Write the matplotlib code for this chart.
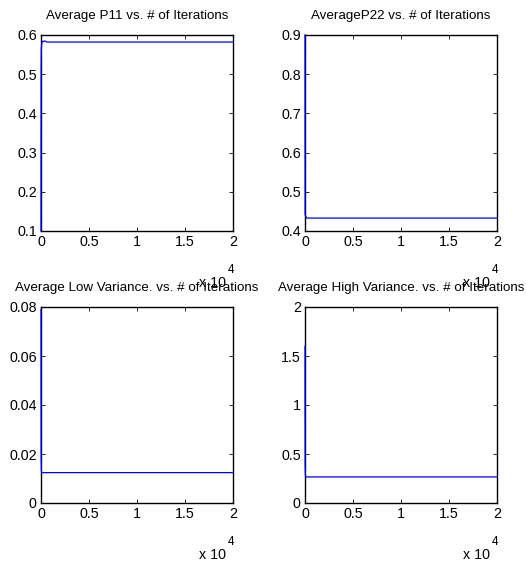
import matplotlib
matplotlib.use("Agg")
import matplotlib.pyplot as plt

plt.rcParams['font.family'] = ['Liberation Sans', 'DejaVu Sans']

# ---- data (iterations, values) ----
p11_iter = [0, 10, 30, 60, 100, 150, 250, 350, 450, 600, 20000]
p11_vals = [0.10, 0.50, 0.565, 0.575, 0.580, 0.584, 0.583, 0.585, 0.584, 0.582, 0.582]

p22_iter = [0, 10, 40, 100, 200, 20000]
p22_vals = [0.90, 0.442, 0.440, 0.436, 0.433, 0.433]

lowvar_iter = [0, 10, 40, 100, 20000]
lowvar_vals = [0.079, 0.020, 0.013, 0.0124, 0.0124]

highvar_iter = [0, 10, 40, 100, 20000]
highvar_vals = [1.60, 0.40, 0.28, 0.266, 0.266]

titles = ["Average P11 vs. # of Iterations",
          "AverageP22 vs. # of Iterations",
          "Average Low Variance. vs. # of Iterations",
          "Average High Variance. vs. # of Iterations"]

ylims = [(0.1, 0.6), (0.4, 0.9), (0, 0.08), (0, 2)]
yticks = [[0.1, 0.2, 0.3, 0.4, 0.5, 0.6],
          [0.4, 0.5, 0.6, 0.7, 0.8, 0.9],
          [0, 0.02, 0.04, 0.06, 0.08],
          [0, 0.5, 1, 1.5, 2]]
yticklabels = [["0.1", "0.2", "0.3", "0.4", "0.5", "0.6"],
               ["0.4", "0.5", "0.6", "0.7", "0.8", "0.9"],
               ["0", "0.02", "0.04", "0.06", "0.08"],
               ["0", "0.5", "1", "1.5", "2"]]
xticks = [0, 5000, 10000, 15000, 20000]
xticklabels = ["0", "0.5", "1", "1.5", "2"]

series = [(p11_iter, p11_vals), (p22_iter, p22_vals),
          (lowvar_iter, lowvar_vals), (highvar_iter, highvar_vals)]

W, H = 526, 567
fig = plt.figure(figsize=(W / 100, H / 100), dpi=100)

# pixel boxes: (left, top, right, bottom)
boxes = [(41, 35, 233, 231), (305, 35, 497, 231),
         (41, 307, 233, 503), (305, 307, 497, 503)]

TFS = 9.6
FS = 10.3
for i, (l, t, r, b) in enumerate(boxes):
    ax = fig.add_axes([l / W, 1 - b / H, (r - l) / W, (b - t) / H])
    x, y = series[i]
    ax.plot(x, y, color=(0, 0, 1), lw=0.9, zorder=3, clip_on=False)
    ax.set_xlim(0, 20000)
    ax.set_ylim(*ylims[i])
    ax.set_xticks(xticks)
    ax.set_xticklabels(xticklabels, fontsize=FS)
    ax.set_yticks(yticks[i])
    ax.set_yticklabels(yticklabels[i], fontsize=FS)
    ax.tick_params(direction='in', length=3, width=0.6, top=True, right=True, pad=3)
    for s in ax.spines.values():
        s.set_linewidth(1.0)
    ax.set_title(titles[i], fontsize=TFS, pad=11.5)
    # x 10^4 exponent label
    ax.text(0.965, -0.265, "x 10", transform=ax.transAxes, fontsize=FS,
            ha='right', va='center')
    ax.text(0.972, -0.2, "4", transform=ax.transAxes, fontsize=FS - 2,
            ha='left', va='center')

fig.savefig("out.png", dpi=100, facecolor='white')
